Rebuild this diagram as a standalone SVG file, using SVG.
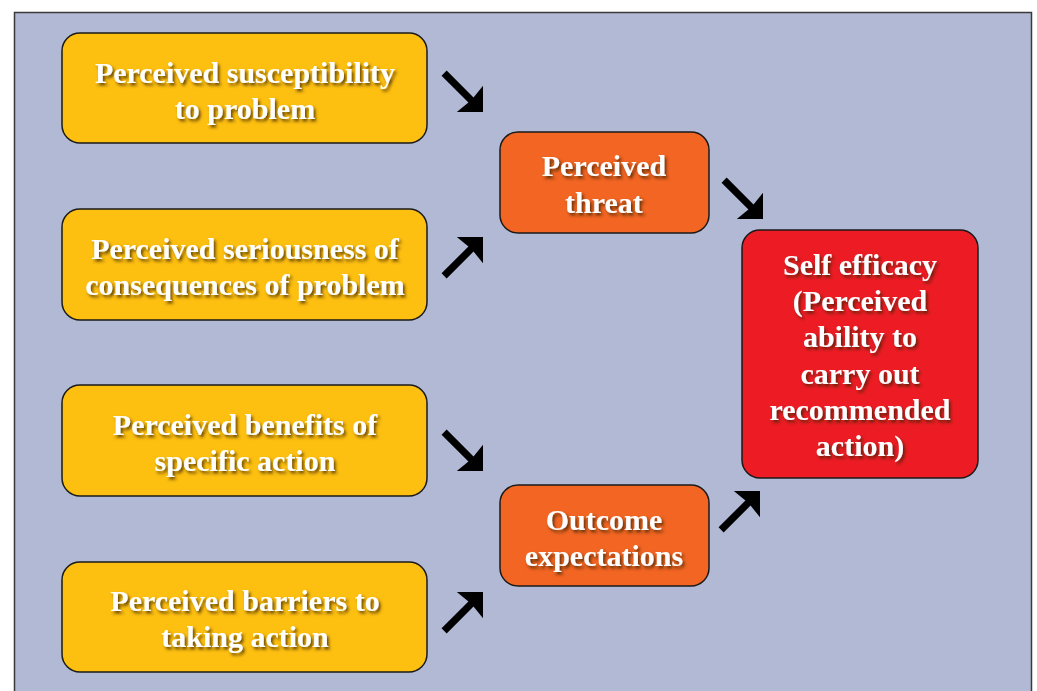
<svg xmlns="http://www.w3.org/2000/svg" width="1037" height="691" viewBox="0 0 1037 691">
  <style>
    .box { stroke: #1a1a1a; stroke-width: 1.5; }
    .factor { fill: #FDC010; }
    .mid { fill: #F26522; }
    .result { fill: #ED1C24; }
    .label { font-family: "Liberation Serif", "Times New Roman", serif; font-weight: bold; font-size: 30px; fill: #ffffff; text-anchor: middle; filter: url(#textShadow); }
    .arrow { fill: #000000; }
  </style>
  <defs>
    <filter id="textShadow" x="-10%" y="-30%" width="120%" height="160%">
      <feDropShadow dx="2" dy="2.5" stdDeviation="1.6" flood-color="#3a2000" flood-opacity="0.75"/>
    </filter>
    <!-- thick arrow pointing along +x, tip at origin -->
    <path id="arrowShape" d="M -55 -3.6 L -17 -3.6 L -18.5 -18.5 L 0 0 L -18.5 18.5 L -17 3.6 L -55 3.6 Z"/>
  </defs>

  <rect width="1037" height="691" fill="#ffffff"/>
  <rect x="14.5" y="12.5" width="1017" height="690" fill="#B1B9D4" stroke="#3a3a3a" stroke-width="1.5"/>

  <g id="connectors" class="arrow">
    <use href="#arrowShape" transform="translate(483,112) rotate(45)"/>
    <use href="#arrowShape" transform="translate(483,237) rotate(-45)"/>
    <use href="#arrowShape" transform="translate(763,219) rotate(45)"/>
    <use href="#arrowShape" transform="translate(483,471) rotate(45)"/>
    <use href="#arrowShape" transform="translate(483,592) rotate(-45)"/>
    <use href="#arrowShape" transform="translate(760,491) rotate(-45)"/>
  </g>

  <g id="susceptibility">
    <rect class="box factor" x="62" y="33" width="365" height="110" rx="18"/>
    <text class="label" x="245" y="83">Perceived susceptibility</text>
    <text class="label" x="245" y="119">to problem</text>
  </g>

  <g id="seriousness">
    <rect class="box factor" x="62" y="209" width="365" height="111" rx="18"/>
    <text class="label" x="245" y="259">Perceived seriousness of</text>
    <text class="label" x="245" y="295">consequences of problem</text>
  </g>

  <g id="benefits">
    <rect class="box factor" x="62" y="385" width="365" height="111" rx="18"/>
    <text class="label" x="245" y="435">Perceived benefits of</text>
    <text class="label" x="245" y="471">specific action</text>
  </g>

  <g id="barriers">
    <rect class="box factor" x="62" y="562" width="365" height="110" rx="18"/>
    <text class="label" x="245" y="611">Perceived barriers to</text>
    <text class="label" x="245" y="647">taking action</text>
  </g>

  <g id="threat">
    <rect class="box mid" x="500" y="132" width="209" height="101" rx="18"/>
    <text class="label" x="604" y="176">Perceived</text>
    <text class="label" x="604" y="213">threat</text>
  </g>

  <g id="outcome">
    <rect class="box mid" x="500" y="485" width="209" height="101" rx="18"/>
    <text class="label" x="604" y="530">Outcome</text>
    <text class="label" x="604" y="566">expectations</text>
  </g>

  <g id="self-efficacy">
    <rect class="box result" x="742" y="230" width="236" height="248" rx="18"/>
    <text class="label" x="860" y="275">Self efficacy</text>
    <text class="label" x="860" y="311">(Perceived</text>
    <text class="label" x="860" y="347">ability to</text>
    <text class="label" x="860" y="384">carry out</text>
    <text class="label" x="860" y="420">recommended</text>
    <text class="label" x="860" y="456">action)</text>
  </g>
</svg>
